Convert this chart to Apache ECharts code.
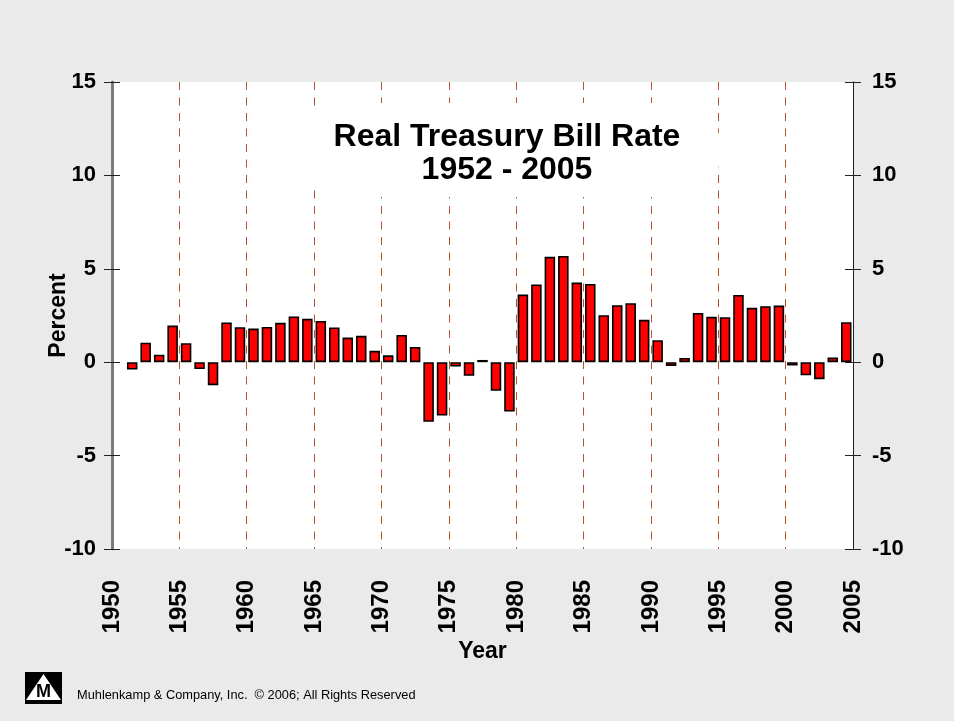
<!DOCTYPE html>
<html>
<head>
<meta charset="utf-8">
<script src="https://cdn.jsdelivr.net/npm/echarts@6/dist/echarts.min.js"></script>
<style>
html,body{margin:0;padding:0;background:#eaeaea;}
#chart{width:954px;height:721px;}
</style>
</head>
<body>
<div id="chart"></div>
<script>
// ---- data ----
const years = [1952,1953,1954,1955,1956,1957,1958,1959,1960,1961,1962,1963,1964,1965,1966,1967,
  1968,1969,1970,1971,1972,1973,1974,1975,1976,1977,1978,1979,1980,1981,1982,1983,1984,1985,1986,
  1987,1988,1989,1990,1991,1992,1993,1994,1995,1996,1997,1998,1999,2000,2001,2002,2003,2004,2005];
const rates = [-0.39,1.04,0.40,1.96,1.02,-0.37,-1.23,2.13,1.87,1.80,1.89,2.11,2.45,2.32,2.21,1.86,
  1.32,1.41,0.61,0.37,1.46,0.82,-3.19,-2.86,-0.23,-0.73,0.12,-1.53,-2.64,3.62,4.16,5.64,5.69,4.26,4.19,
  2.52,3.05,3.16,2.27,1.18,-0.20,0.23,2.64,2.43,2.41,3.60,2.91,3.00,3.03,-0.18,-0.70,-0.91,0.25,2.14];
const yTicks = [-10,-5,0,5,10,15];
const xTicks = [1950,1955,1960,1965,1970,1975,1980,1985,1990,1995,2000,2005];
const titleLines = ['Real Treasury Bill Rate','1952 - 2005'];
const footer = 'Muhlenkamp & Company, Inc.  \u00A9 2006; All Rights Reserved';

const FONT = '"Liberation Sans", Arial, Helvetica, sans-serif';
// each bar spans the year ending at its label (Y-1 .. Y)
const barData = years.map((y,i)=>[y-0.5, rates[i]]);

const chart = echarts.init(document.getElementById('chart'), null, {renderer:'canvas'});

function yAxisCfg(pos, inside, labels, lineColor, lineWidth){
  return {
    type:'value', position:pos, min:yTicks[0], max:yTicks[yTicks.length-1], interval:5,
    axisLine:{show:true, onZero:false, lineStyle:{color:lineColor, width:lineWidth}},
    axisTick:{show:true, inside:inside, length:8, lineStyle:{color:'#222', width:1}},
    axisLabel:{show:labels, margin:pos==='left'?16:19, color:'#000', fontFamily:FONT, fontWeight:'bold', fontSize:22},
    splitLine:{show:false}
  };
}

const gLeft = 112, gRight = 954-853, gTop = 82, gBottom = 721-549;

chart.setOption({
  backgroundColor:'#eaeaea',
  animation:false,
  grid:{left:gLeft, right:gRight, top:gTop, bottom:gBottom, show:true, backgroundColor:'#fff', borderWidth:0},
  xAxis:{
    type:'value', min:xTicks[0], max:xTicks[xTicks.length-1], interval:5,
    name:'Year', nameLocation:'middle', nameGap:91, nameMoveOverlap:false,
    nameTextStyle:{color:'#000', fontFamily:FONT, fontWeight:'bold', fontSize:23, verticalAlign:'top'},
    axisLine:{show:false},
    axisTick:{show:false},
    axisLabel:{show:true, rotate:90, margin:31, color:'#000', fontFamily:FONT, fontWeight:'bold', fontSize:24,
      formatter:v=>String(v)},
    splitLine:{show:true, showMinLine:false, showMaxLine:false,
      lineStyle:{color:'#b4552b', width:1, type:[8,7.5]}}
  },
  yAxis:[
    Object.assign(yAxisCfg('left', false, true, '#777', 2.5), {
      name:'Percent', nameLocation:'middle', nameGap:42, nameRotate:90, nameMoveOverlap:false,
      nameTextStyle:{color:'#000', fontFamily:FONT, fontWeight:'bold', fontSize:23}
    }),
    yAxisCfg('left', true, false, '#777', 2.5),
    yAxisCfg('right', false, true, '#222', 1),
    yAxisCfg('right', true, false, '#222', 1)
  ],
  series:[{
    type:'bar', xAxisIndex:0, yAxisIndex:0,
    data:barData, barWidth:10.5,
    itemStyle:{color:'#ff0000', borderColor:'#000', borderWidth:1.6},
    z:3
  }],
  graphic:[
    {type:'rect', z:5, shape:{x:300, y:103, width:420, height:94, r:40}, style:{fill:'#fff'}},
    {type:'text', z:6, x:507, y:137, style:{text:titleLines[0], fill:'#000', font:'bold 32px '+FONT, textAlign:'center', textVerticalAlign:'middle'}},
    {type:'text', z:6, x:507, y:170, style:{text:titleLines[1], fill:'#000', font:'bold 32px '+FONT, textAlign:'center', textVerticalAlign:'middle'}},
    {type:'rect', z:5, shape:{x:25, y:672, width:37, height:32}, style:{fill:'#000'}},
    {type:'polygon', z:6, shape:{points:[[26,700],[43.5,674],[61,700]]}, style:{fill:'#fff'}},
    {type:'text', z:7, x:43.5, y:692, style:{text:'M', fill:'#000', font:'bold 18px '+FONT, textAlign:'center', textVerticalAlign:'middle'}},
    {type:'text', z:6, x:77, y:702, style:{text:footer, fill:'#000', font:'12.8px '+FONT, textAlign:'left', textVerticalAlign:'bottom'}}
  ]
});
</script>
</body>
</html>
